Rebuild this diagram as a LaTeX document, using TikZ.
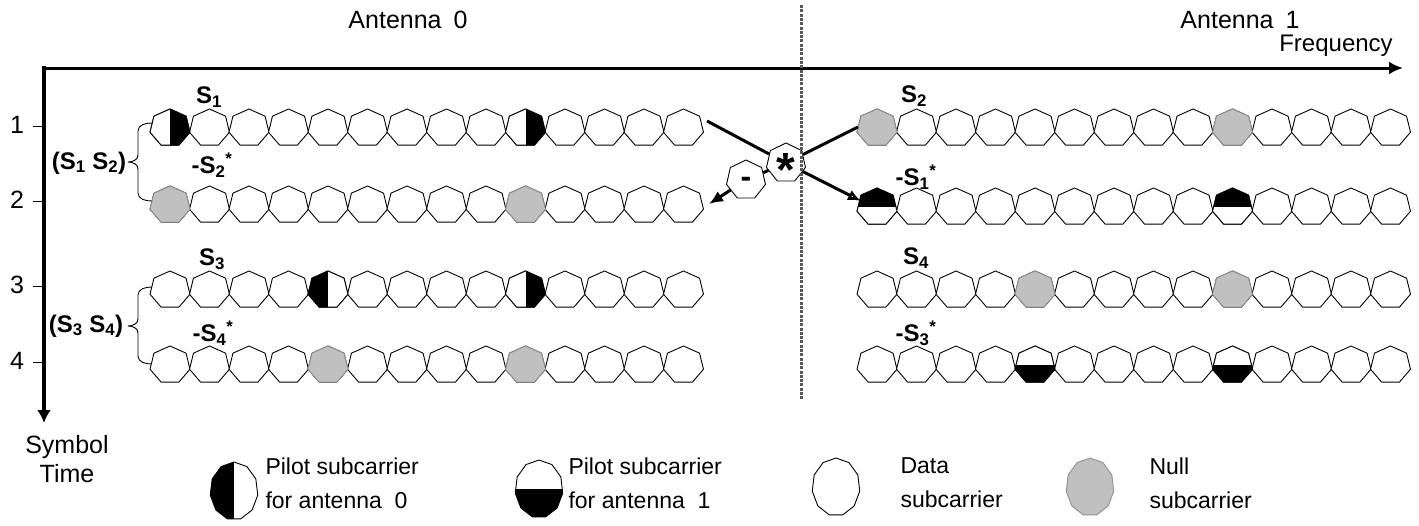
\documentclass[tikz,border=0pt]{standalone}
\usepackage{fontspec}
\setmainfont{Liberation Sans}
\usetikzlibrary{arrows.meta,shapes.geometric}
\definecolor{nullgray}{HTML}{C0C0C0}
\def\hrx{20.5}
\def\hry{19}
\newcommand{\hepat}[4]{(#1,#2) +(270:#3 and #4) -- +(321.43:#3 and #4) -- +(12.86:#3 and #4) -- +(64.29:#3 and #4) -- +(115.71:#3 and #4) -- +(167.14:#3 and #4) -- +(218.57:#3 and #4) -- cycle}
\newcommand{\ovalat}[4]{plot[samples=12,domain=0:360,variable=\t] ({#1+#3*cos(270+\t)},{#2+#4*sin(270+\t)}) -- cycle}
\tikzset{
  hepline/.style={draw=black, line width=0.9pt},
  datahep/.style={hepline, fill=white},
  nullhep/.style={draw=nullgray!75!black, line width=0.9pt, fill=nullgray},
  conn/.style={line width=3pt},
  opnode/.style={regular polygon, regular polygon sides=7, draw, line width=0.9pt, fill=white, minimum size=40pt, inner sep=0pt},
  lbl/.style={font=\fontsize{25}{29}\selectfont},
  slbl/.style={font=\bfseries\fontsize{24}{28}\selectfont},
  legtxt/.style={font=\fontsize{23}{34}\selectfont, align=left, anchor=west},
  divider/.style={draw=black!65, line width=3pt, dash pattern=on 3pt off 1.3pt},
}
\newcommand{\datah}[2]{\draw[datahep] \hepat{#1}{#2}{\hrx}{\hry};}
\newcommand{\nullh}[4]{\draw[nullhep] \hepat{#1}{#2}{#3}{#4};}
\newcommand{\pilh}[6]{\begin{scope}\clip \hepat{#1}{#2}{#3}{#4}; \fill[white] \hepat{#1}{#2}{#3}{#4}; \fill[black] (#1,#2) ++(#5) rectangle ++(#6);\end{scope}\draw[hepline] \hepat{#1}{#2}{#3}{#4};}
\newcommand{\pilov}[6]{\begin{scope}\clip \ovalat{#1}{#2}{#3}{#4}; \fill[white] \ovalat{#1}{#2}{#3}{#4}; \fill[black] (#1,#2) ++(#5) rectangle ++(#6);\end{scope}\draw[hepline] \ovalat{#1}{#2}{#3}{#4};}
\newcommand{\hrowdata}[2]{\foreach \i in {0,...,13}{\pgfmathsetmacro{\cx}{#1+39.5*\i}\datah{\cx}{#2}}}
\begin{document}
\begin{tikzpicture}[x=1pt,y=-1pt,line join=round]
\useasboundingbox (0,0) rectangle (1419,525);
% titles
\node[lbl] (ant0) at (408,20) {Antenna\hspace{12pt}0};
\node[lbl] (ant1) at (1240,20) {Antenna\hspace{12pt}1};
\node[font=\fontsize{24}{28}\selectfont] (freq) at (1336,46) {Frequency};
% axes
\coordinate (orig) at (44,68);
\coordinate (otop) at (44,66);
\coordinate (fend) at (1403,68);
\coordinate (tend) at (44,423);
\draw[line width=3pt, -{Latex[length=14pt,width=13pt]}] (orig) -- (fend);
\draw[line width=4pt, -{Latex[length=13pt,width=14pt]}] (otop) -- (tend);
% ticks
\foreach \n/\yy in {1/126,2/201,3/286,4/362}{
  \coordinate (tk\n) at (44,\yy);
  \draw[line width=0.9pt] (tk\n) -- ++(-11,0);
  \node[lbl] (tl\n) at (17,\yy-1) {\n};
}
\node[font=\fontsize{25}{29}\selectfont, align=center] (stime) at (67,459) {Symbol\\Time};
% braces
\draw[line width=0.9pt] (152,123) to[out=180,in=90] (138,131) -- (138,155) to[out=270,in=0] (128,162) to[out=0,in=90] (138,169) -- (138,193) to[out=270,in=180] (152,201);
\draw[line width=0.9pt] (152,287) to[out=180,in=90] (138,295) -- (138,319) to[out=270,in=0] (128,326) to[out=0,in=90] (138,333) -- (138,356) to[out=270,in=180] (152,364);
\node[slbl] (p12) at (89,163) {(S\textsubscript{1} S\textsubscript{2})};
\node[slbl] (p34) at (86,326) {(S\textsubscript{3} S\textsubscript{4})};
% row labels
\node[slbl] (lS1) at (209,97) {S\textsubscript{1}};
\node[slbl] (lS2) at (212,165) {-S\textsubscript{2}\textsuperscript{*}};
\node[slbl] (lS3) at (212,259) {S\textsubscript{3}};
\node[slbl] (lS4) at (213,333) {-S\textsubscript{4}\textsuperscript{*}};
\node[slbl] (rS2) at (914,96) {S\textsubscript{2}};
\node[slbl] (rS1) at (916,177) {-S\textsubscript{1}\textsuperscript{*}};
\node[slbl] (rS4) at (916,258) {S\textsubscript{4}};
\node[slbl] (rS3) at (916,333) {-S\textsubscript{3}\textsuperscript{*}};
% left rows
\hrowdata{170}{128}
\pilh{170}{128}{\hrx}{\hry}{0,-25}{25,50}
\pilh{525.5}{128}{\hrx}{\hry}{0,-25}{25,50}
\hrowdata{170}{205}
\nullh{170}{205}{\hrx}{\hry}
\nullh{525.5}{205}{\hrx}{\hry}
\hrowdata{170}{290}
\pilh{328}{290}{\hrx}{\hry}{-25,-25}{25,50}
\pilh{525.5}{290}{\hrx}{\hry}{0,-25}{25,50}
\hrowdata{170}{365}
\nullh{328}{365}{\hrx}{\hry}
\nullh{525.5}{365}{\hrx}{\hry}
% right rows
\hrowdata{877}{128}
\nullh{877}{128}{\hrx}{\hry}
\nullh{1232.5}{128}{\hrx}{\hry}
\hrowdata{877}{207}
\pilh{877}{207}{\hrx}{\hry}{-25,-25}{50,25}
\pilh{1232.5}{207}{\hrx}{\hry}{-25,-25}{50,25}
\hrowdata{877}{290}
\nullh{1035}{290}{\hrx}{\hry}
\nullh{1232.5}{290}{\hrx}{\hry}
\hrowdata{877}{365}
\pilh{1035}{365}{\hrx}{\hry}{-25,0}{50,25}
\pilh{1232.5}{365}{\hrx}{\hry}{-25,0}{50,25}
% operator nodes and connectors
\node[opnode] (mul) at (786,163) {\fontsize{48}{48}\selectfont\bfseries\raisebox{-23pt}[0pt][0pt]{*}};
\node[opnode] (neg) at (746,180) {\fontsize{32}{32}\selectfont\bfseries\raisebox{-7pt}[0pt][0pt]{-}};
\coordinate (L1end) at (707,121);
\coordinate (L2end) at (709,204);
\coordinate (R1a) at (858,127);
\coordinate (R2a) at (861,201);
\draw[conn] (L1end) -- (mul);
\draw[conn] (mul) -- (R1a);
\draw[conn, -{Latex[open,fill=white,length=13pt,width=11pt]}] (mul) -- (R2a);
\draw[conn] (mul) -- (neg);
\draw[conn, -{Latex[length=14pt,width=12pt]}] (neg) -- (L2end);
% divider
\coordinate (dtop) at (801,5);
\coordinate (dbot) at (801,400);
\draw[divider] (dtop) -- (dbot);
% legend
\pilov{234}{491}{24}{29}{-30,-35}{30,70}
\node[legtxt] (lg0) at (262,483) {Pilot subcarrier\\for antenna\ \ 0};
\pilov{539}{489}{24}{29}{-30,0}{60,35}
\node[legtxt] (lg1) at (565,483) {Pilot subcarrier\\for antenna\ \ 1};
\draw[datahep] \ovalat{836}{487}{24}{29};
\node[legtxt] (lg2) at (897,483) {Data\\subcarrier};
\draw[nullhep] \ovalat{1090}{487}{24}{29};
\node[legtxt] (lg3) at (1146,483) {Null\\subcarrier};
\end{tikzpicture}
\end{document}
